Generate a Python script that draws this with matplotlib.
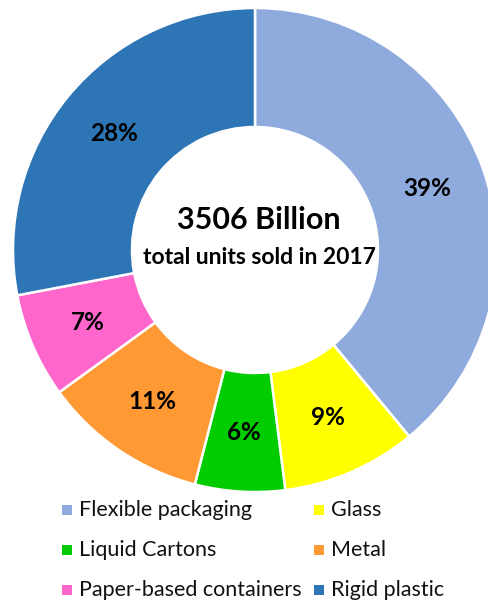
import matplotlib
matplotlib.use("Agg")
import matplotlib.pyplot as plt
from matplotlib.patches import Rectangle

categories = ["Flexible packaging", "Glass", "Liquid Cartons", "Metal",
              "Paper-based containers", "Rigid plastic"]
shares = [39, 9, 6, 11, 7, 28]
colors = ["#8FAADC", "#FFFF00", "#00CC00", "#FF9933", "#FF66CC", "#2E75B6"]
total_label = "3506 Billion"
sub_label = "total units sold in 2017"

plt.rcParams["font.family"] = ["Lato", "DejaVu Sans"]

W, H = 488, 603
fig = plt.figure(figsize=(W / 100, H / 100), dpi=100)
ax = fig.add_axes([0, 0, 1, 1])

cx, cy, R = 255, H - 250, 242
ring = 119 / 242

wedges, texts, autotexts = ax.pie(
    shares, colors=colors, startangle=90, counterclock=False,
    center=(cx, cy), radius=R,
    autopct=lambda p: f"{p:.0f}%", pctdistance=0.755,
    wedgeprops=dict(width=R * ring, edgecolor="white", linewidth=1.8),
    textprops=dict(fontsize=17.5, fontweight="bold", color="black"),
)

ax.text(cx + 4, cy + 30, total_label, ha="center", va="center",
        fontsize=22, fontweight="bold", color="black")
ax.text(cx + 4, cy - 7, sub_label, ha="center", va="center",
        fontsize=16.5, fontweight="bold", color="black")

ax.set_xlim(0, W)
ax.set_ylim(0, H)
ax.set_aspect("auto")
ax.axis("off")

# legend: two columns, three rows, square swatches
col_x = [62, 314]
row_y = [510, 550, 590]
sq = 10
for i, (name, col) in enumerate(zip(categories, colors)):
    r, c = divmod(i, 2)
    x, y = col_x[c], H - row_y[r]
    fig.patches.append(Rectangle((x / W, (y - sq / 2) / H), sq / W, sq / H,
                                 transform=fig.transFigure,
                                 facecolor=col, edgecolor="none"))
    fig.text((x + sq + 7) / W, y / H, name, ha="left", va="center",
             fontsize=15.5, color="#111111")

fig.savefig("out.png", dpi=100, facecolor="white")
